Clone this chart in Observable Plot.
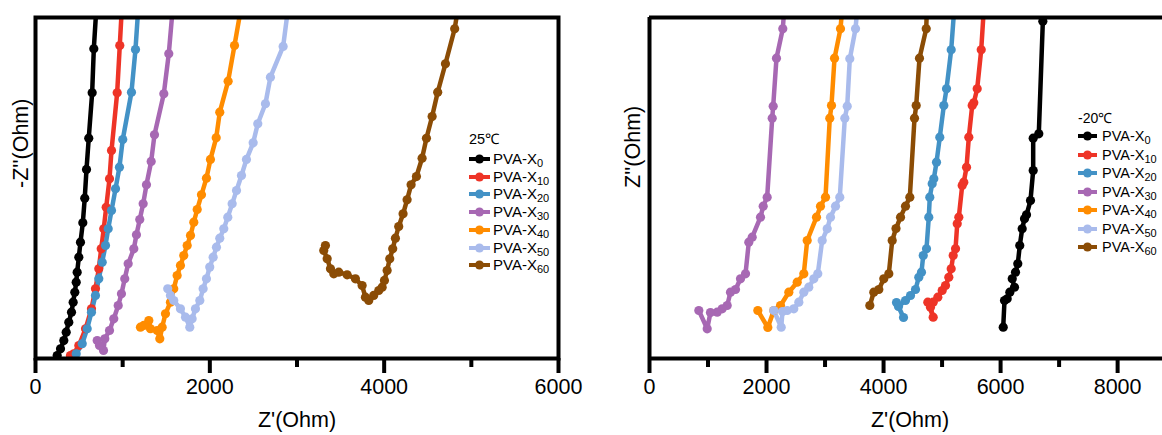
<!DOCTYPE html>
<html><head><meta charset="utf-8">
<script src="https://cdn.jsdelivr.net/npm/d3@7"></script>
<script src="https://cdn.jsdelivr.net/npm/@observablehq/plot@0.6"></script>
<style>
body{margin:0;background:#fff;overflow:hidden;}
#wrap{position:relative;width:1162px;height:435px;overflow:hidden;font-family:"Liberation Sans",Arial,Helvetica,sans-serif;}
.panel{position:absolute;top:0;}
.leg{position:absolute;color:#000;white-space:nowrap;}
.leg sub{font-size:11px;vertical-align:-3px;line-height:0;}
</style></head><body><div id="wrap"></div>
<script>
// ---- data ----
const seriesNames = ["PVA-X0","PVA-X10","PVA-X20","PVA-X30","PVA-X40","PVA-X50","PVA-X60"];
const seriesSubs = ["0","10","20","30","40","50","60"];
const seriesColors = ["#000000","#ee3427","#4392c6","#a768b3","#ff8c00","#a9bbec","#8b4c05"];

// 25 ℃ panel: [Z', -Z''] in Ohm
const rt_X0 = [[700,4049],[669,3552],[650,3048],[611,2527],[585,2168],[565,1839],[543,1557],[516,1334],[497,1162],[478,990],[467,875],[451,760],[432,646],[413,531],[382,416],[352,302],[325,206],[287,111],[249,34]];
const rt_X10 = [[992,4049],[967,3590],[937,3048],[872,2386],[849,2061],[811,1735],[783,1488],[754,1258],[726,1029],[688,799],[642,570],[574,341],[497,149],[439,54],[401,34]];
const rt_X20 = [[1181,4049],[1147,3544],[1101,3054],[1001,2512],[963,2194],[918,1946],[872,1697],[834,1488],[803,1296],[765,1105],[726,914],[688,723],[642,531],[593,341],[536,169],[467,54]];
const rt_X30 = [[1577,4049],[1529,3495],[1472,3036],[1365,2566],[1327,2260],[1273,1992],[1235,1774],[1196,1594],[1158,1419],[1128,1258],[1063,1086],[1024,914],[986,742],[949,608],[898,455],[849,321],[795,226],[780,92],[734,149],[708,206]];
const rt_X40 = [[2363,4049],[2283,3590],[2210,3181],[2114,2825],[2073,2531],[2007,2283],[1961,2068],[1904,1877],[1855,1709],[1816,1563],[1778,1411],[1740,1296],[1701,1181],[1663,1067],[1625,952],[1586,799],[1548,646],[1491,513],[1453,359],[1426,226],[1396,321],[1319,341],[1300,436],[1242,379],[1204,359]];
const rt_X50 = [[2902,4049],[2841,3579],[2695,3227],[2638,2922],[2550,2692],[2497,2474],[2420,2283],[2363,2099],[2306,1927],[2256,1774],[2206,1621],[2160,1488],[2114,1380],[2076,1277],[2038,1162],[1999,1048],[1961,914],[1923,799],[1885,665],[1835,570],[1797,455],[1770,359],[1721,474],[1663,570],[1586,665],[1548,723],[1517,799]];
const rt_X60 = [[4852,4049],[4809,3782],[4703,3380],[4614,3054],[4550,2775],[4485,2526],[4435,2297],[4370,2087],[4309,1992],[4263,1820],[4217,1659],[4167,1514],[4129,1380],[4098,1258],[4064,1143],[4034,1009],[4003,895],[3977,818],[3938,780],[3880,723],[3823,665],[3785,703],[3747,837],[3670,914],[3575,960],[3479,990],[3422,971],[3384,1029],[3346,1144],[3307,1239],[3326,1296]];

// -20 ℃ panel: [Z', Z''] in Ohm
const lt_X0 = [[6727,6033],[6722,5765],[6653,3840],[6557,3765],[6557,3213],[6511,2700],[6443,2456],[6409,2387],[6369,2216],[6328,1931],[6294,1618],[6255,1475],[6199,1362],[6238,1218],[6158,1133],[6113,1020],[6067,991],[6045,535]];
const lt_X10 = [[5717,6033],[5669,5276],[5600,4609],[5542,4370],[5515,4324],[5457,3782],[5418,3269],[5371,3013],[5344,2957],[5286,2415],[5259,2302],[5230,1875],[5190,1760],[5156,1533],[5115,1389],[5059,1248],[5002,1162],[4927,1048],[4848,962],[4802,877],[4848,706],[4756,962]];
const lt_X20 = [[5212,6033],[5156,5276],[5076,4609],[5030,4324],[4961,3782],[4905,3355],[4859,3071],[4831,2986],[4790,2757],[4773,2415],[4734,1875],[4678,1760],[4648,1475],[4602,1389],[4546,1179],[4461,1077],[4375,991],[4255,889],[4341,701],[4221,957]];
const lt_X30 = [[2307,6033],[2278,5635],[2170,5132],[2114,4312],[2097,4107],[2011,2757],[1943,2603],[1897,2415],[1755,2073],[1697,1988],[1641,1448],[1555,1362],[1470,1179],[1384,1133],[1328,906],[1242,849],[1157,791],[1042,786],[986,508],[843,820]];
const lt_X40 = [[3298,6033],[3264,5635],[3162,5132],[3110,4324],[3081,4107],[3008,2757],[2922,2603],[2854,2415],[2695,2017],[2637,1448],[2524,1304],[2381,1133],[2239,906],[2124,820],[2022,530],[1851,820]];
const lt_X50 = [[3555,6033],[3521,5635],[3423,5122],[3379,4312],[3338,4107],[3252,2757],[3179,2603],[3093,2415],[3037,2217],[2951,2017],[2876,1448],[2808,1362],[2722,1219],[2637,1133],[2552,962],[2466,849],[2353,820],[2273,803],[2251,535],[2124,820]];
const lt_X60 = [[4742,6033],[4729,5635],[4614,5132],[4558,4324],[4529,4107],[4449,2757],[4375,2603],[4290,2415],[4213,2222],[4148,2017],[4090,1448],[4004,1362],[3919,1179],[3833,1133],[3765,906]];

const leftSeries = [rt_X0, rt_X10, rt_X20, rt_X30, rt_X40, rt_X50, rt_X60];
const rightSeries = [lt_X0, lt_X10, lt_X20, lt_X30, lt_X40, lt_X50, lt_X60];

const leftXDomain = [0, 6000], leftYDomain = [0, 3911];
const rightXDomain = [0, 8767], rightYDomain = [0, 5828];
const leftMajor = [0, 2000, 4000, 6000], leftMinor = [1000, 3000, 5000];
const rightMajor = [0, 2000, 4000, 6000, 8000], rightMinor = [1000, 3000, 5000, 7000];
const leftTitle = "25℃", rightTitle = "-20℃";
const xLabel = "Z'(Ohm)", leftYLabel = "-Z''(Ohm)", rightYLabel = "Z''(Ohm)";

// ---- build ----
function rows(list) {
  return list.flatMap((pts, i) => pts.map(([x, y]) => ({s: seriesNames[i], x, y})));
}
const FONT = '"Liberation Sans", Arial, Helvetica, sans-serif';

function panel(opts) {
  const data = rows(opts.series);
  const marks = [
    Plot.line(data, {x: "x", y: "y", z: "s", stroke: "s", strokeWidth: 4.5, strokeLinejoin: "round", clip: true}),
    Plot.dot(data, {x: "x", y: "y", fill: "s", r: 4.6, clip: true}),
    Plot.axisX(opts.minor, {tickSize: 9, strokeWidth: 4, tickFormat: () => "", label: null}),
    Plot.axisX(opts.major, {tickSize: 15, strokeWidth: 4, tickPadding: 5, fontSize: 21.5, tickFormat: d => String(d), label: null}),
    Plot.text([xLabel], {text: d => d, frameAnchor: "bottom", dy: 68, dx: opts.xlDx, fontSize: 21.5}),
    Plot.text([opts.yLabel], {text: d => d, frameAnchor: "left", dx: opts.ylDx, rotate: -90, fontSize: 21.5})
  ];
  if (opts.fullFrame) {
    marks.push(Plot.frame({stroke: "#000", strokeWidth: 4}));
  } else {
    marks.push(Plot.ruleY([opts.yDomain[1]], {stroke: "#000", strokeWidth: 4}));
    marks.push(Plot.ruleY([opts.yDomain[0]], {stroke: "#000", strokeWidth: 4}));
    marks.push(Plot.ruleX([opts.xDomain[0]], {stroke: "#000", strokeWidth: 4}));
  }
  return Plot.plot({
    width: opts.width, height: 435,
    marginLeft: opts.ml, marginRight: opts.mr, marginTop: 17, marginBottom: 77,
    style: {fontFamily: FONT, background: "transparent", overflow: "visible"},
    x: {domain: opts.xDomain, axis: null, label: null},
    y: {domain: opts.yDomain, axis: null, label: null},
    color: {domain: seriesNames, range: seriesColors},
    marks
  });
}

const wrap = document.getElementById("wrap");
const p1 = panel({series: leftSeries, width: 600, ml: 35, mr: 42, xDomain: leftXDomain, yDomain: leftYDomain,
  major: leftMajor, minor: leftMinor, yLabel: leftYLabel, ylDx: -14, xlDx: 0, fullFrame: true});
p1.classList.add("panel"); p1.style.left = "0px";
wrap.appendChild(p1);
const p2 = panel({series: rightSeries, width: 562, ml: 49, mr: 0, xDomain: rightXDomain, yDomain: rightYDomain,
  major: rightMajor, minor: rightMinor, yLabel: rightYLabel, ylDx: -16, xlDx: 4, fullFrame: false});
p2.classList.add("panel"); p2.style.left = "600px";
wrap.appendChild(p2);

function legend(cfg) {
  const w = d3.select(wrap);
  w.append("div").attr("class", "leg")
    .style("left", cfg.x + "px").style("top", (cfg.titleY - 9) + "px")
    .style("font-size", cfg.titleSize + "px").style("line-height", "18px")
    .text(cfg.title);
  seriesNames.forEach((name, i) => {
    const cy = cfg.rowY + i * cfg.step;
    const row = w.append("div").attr("class", "leg")
      .style("left", cfg.x + "px").style("top", (cy - 9) + "px")
      .style("height", "18px").style("display", "flex").style("align-items", "center")
      .style("font-size", cfg.fontSize + "px");
    const sv = row.append("svg").attr("width", cfg.sw).attr("height", 10).style("display", "block");
    sv.append("line").attr("x1", 0).attr("x2", cfg.sw).attr("y1", 5).attr("y2", 5)
      .attr("stroke", seriesColors[i]).attr("stroke-width", 4);
    sv.append("circle").attr("cx", cfg.sw / 2).attr("cy", 5).attr("r", 4.5).attr("fill", seriesColors[i]);
    const t = row.append("span").style("margin-left", cfg.gap + "px").style("line-height", "18px");
    t.append("span").text("PVA-X");
    t.append("sub").text(seriesSubs[i]);
  });
}
legend({x: 469, titleY: 139, rowY: 159, step: 17.7, sw: 21, gap: 3, fontSize: 15, titleSize: 14.5, title: leftTitle});
legend({x: 1078, titleY: 118, rowY: 136, step: 18.5, sw: 19, gap: 5, fontSize: 14.5, titleSize: 14, title: rightTitle});
</script></body></html>
